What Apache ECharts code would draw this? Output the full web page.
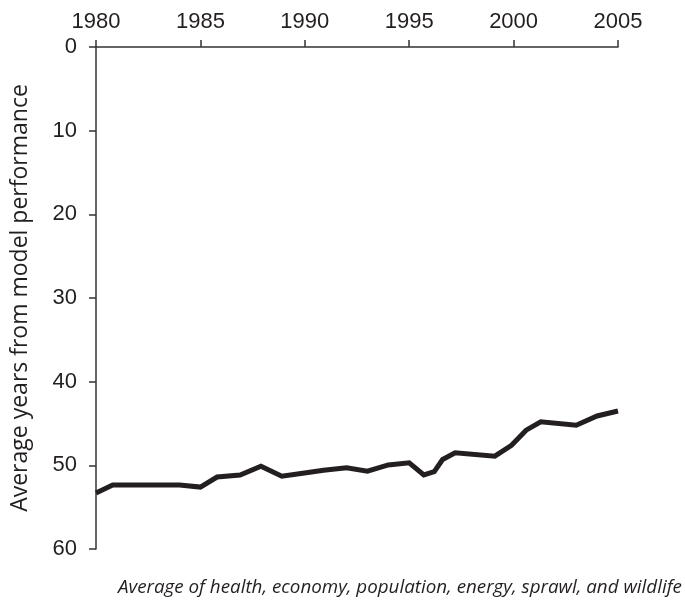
<!DOCTYPE html>
<html>
<head>
<meta charset="utf-8">
<script src="https://cdn.jsdelivr.net/npm/echarts@6/dist/echarts.min.js"></script>
<style>
  html, body { margin: 0; padding: 0; background: #fff; }
  #chart { width: 685px; height: 604px; }
</style>
</head>
<body>
<div id="chart"></div>
<script>
// year positions of the line's points
const years = [1980, 1980.8, 1984, 1985, 1985.8, 1986.9, 1987.9, 1988.9, 1989.9, 1990.9, 1992, 1993, 1994, 1995,
  1995.7, 1996.2, 1996.6, 1997.2, 1999.1, 1999.9, 2000.6, 2001.3, 2003, 2004, 2005];
// average years from model performance
const values = [53.3, 52.35, 52.35, 52.6, 51.4, 51.15, 50.1, 51.3, 50.95, 50.6, 50.3, 50.7, 49.95, 49.7,
  51.15, 50.75, 49.3, 48.5, 48.9, 47.6, 45.8, 44.8, 45.2, 44.1, 43.5];

const points = years.map((y, i) => [y, values[i]]);
const axisColor = "#333";
const textColor = "#231f20";

const chart = echarts.init(document.getElementById("chart"));
chart.setOption({
  animation: false,
  grid: { left: 96, right: 67, top: 47, bottom: 55, outerBoundsMode: "none", containLabel: false },
  graphic: [
    {
      type: "text",
      left: 118,
      top: 578,
      style: {
        text: "Average of health, economy, population, energy, sprawl, and wildlife",
        fill: textColor,
        font: "italic 18.8px 'Open Sans'",
      },
    },
  ],
  xAxis: {
    type: "value",
    position: "top",
    min: 1980,
    max: 2005,
    interval: 5,
    splitLine: { show: false },
    axisLine: { show: true, lineStyle: { color: axisColor, width: 1.5 } },
    axisTick: { show: true, length: 7, lineStyle: { color: axisColor, width: 1.5 } },
    axisLabel: {
      color: textColor,
      fontSize: 22,
      fontFamily: "Liberation Sans",
      margin: 14,
      formatter: (v) => String(v),
    },
  },
  yAxis: {
    type: "value",
    inverse: true,
    min: 0,
    max: 60,
    interval: 10,
    name: "Average years from model performance",
    nameLocation: "middle",
    nameGap: 64,
    nameTextStyle: { color: textColor, fontSize: 23, fontFamily: "Open Sans" },
    splitLine: { show: false },
    axisLine: { show: true, lineStyle: { color: axisColor, width: 1.5 } },
    axisTick: { show: true, length: 7, lineStyle: { color: axisColor, width: 1.5 } },
    axisLabel: {
      color: textColor,
      fontSize: 22,
      fontFamily: "Liberation Sans",
      margin: 19,
    },
  },
  series: [
    {
      type: "line",
      data: points,
      showSymbol: false,
      lineStyle: { color: "#231f20", width: 5, join: "miter" },
    },
  ],
});
</script>
</body>
</html>
